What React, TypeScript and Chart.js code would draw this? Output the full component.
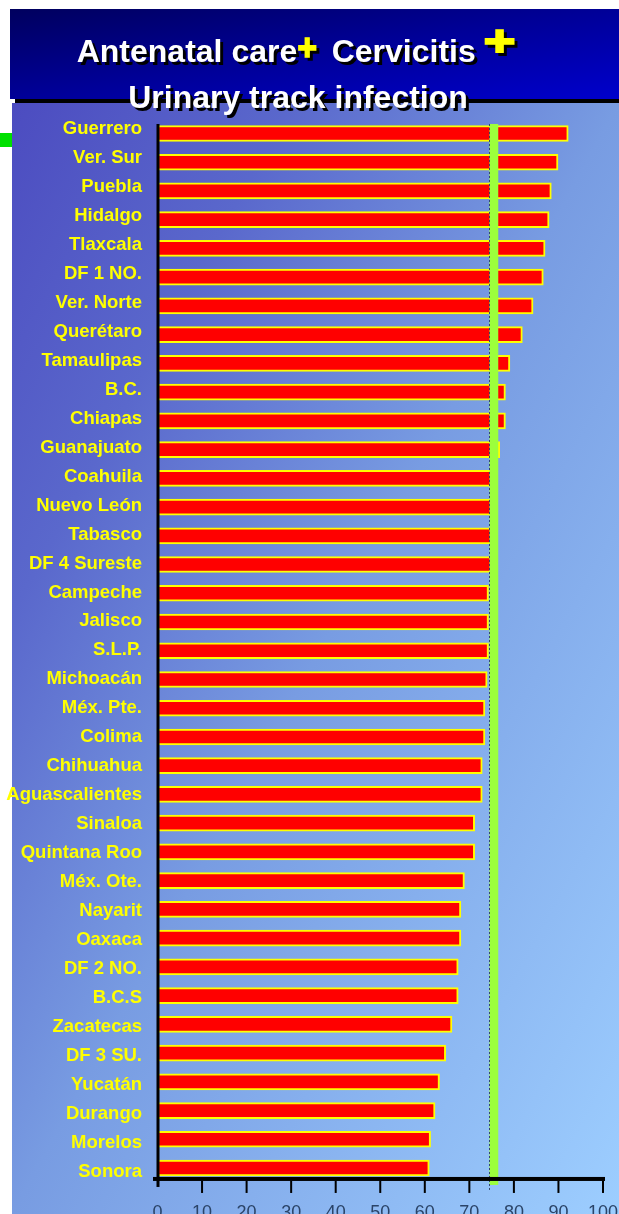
import React, { useEffect, useRef } from 'react';
import { Chart, registerables } from 'chart.js';

Chart.register(...registerables);

// Coverage by delegation (%), listed from highest to lowest
const states = [
  'Guerrero', 'Ver. Sur', 'Puebla', 'Hidalgo', 'Tlaxcala', 'DF 1 NO.', 'Ver. Norte',
  'Querétaro', 'Tamaulipas', 'B.C.', 'Chiapas', 'Guanajuato', 'Coahuila', 'Nuevo León',
  'Tabasco', 'DF 4 Sureste', 'Campeche', 'Jalisco', 'S.L.P.', 'Michoacán', 'Méx. Pte.',
  'Colima', 'Chihuahua', 'Aguascalientes', 'Sinaloa', 'Quintana Roo', 'Méx. Ote.',
  'Nayarit', 'Oaxaca', 'DF 2 NO.', 'B.C.S', 'Zacatecas', 'DF 3 SU.', 'Yucatán',
  'Durango', 'Morelos', 'Sonora',
];

const coverage = [
  92.2, 89.9, 88.4, 87.9, 87.0, 86.6, 84.3,
  81.9, 79.1, 78.1, 78.1, 76.8, 75.6, 75.4,
  75.2, 75.0, 74.3, 74.3, 74.3, 74.0, 73.5,
  73.5, 72.9, 72.9, 71.2, 71.2, 68.9,
  68.1, 68.1, 67.5, 67.5, 66.1, 64.7, 63.3,
  62.3, 61.3, 61.0,
];

// National reference level drawn as a vertical band
const nationalLevel = [75.5];

const xTickValues = [0, 10, 20, 30, 40, 50, 60, 70, 80, 90, 100];

const titleFirst = 'Antenatal care';
const titleSecond = 'Cervicitis';
const titleThird = 'Urinary track infection';
const plusSign = '+';

const FONT = '"Liberation Sans", Arial, Helvetica, sans-serif';

function cssDiagonalGradient(
  ctx: CanvasRenderingContext2D,
  x: number, y: number, w: number, h: number,
  stops: [number, string][],
) {
  // Equivalent of CSS "to bottom right": opposite corners share the mid colour
  const norm = Math.hypot(w, h);
  const ux = h / norm;
  const uy = w / norm;
  const half = (w * h) / norm;
  const cx = x + w / 2;
  const cy = y + h / 2;
  const g = ctx.createLinearGradient(cx - ux * half, cy - uy * half, cx + ux * half, cy + uy * half);
  stops.forEach(([t, c]) => g.addColorStop(t, c));
  return g;
}

function shadowText(ctx: CanvasRenderingContext2D, text: string, x: number, y: number, color: string) {
  ctx.fillStyle = '#000000';
  ctx.fillText(text, x + 3, y + 3);
  ctx.fillStyle = color;
  ctx.fillText(text, x, y);
}

// Draws a glyph so that its ink box fits the given centre and size
function fittedGlyph(
  ctx: CanvasRenderingContext2D, ch: string, baseSize: number,
  cx: number, cy: number, inkW: number, inkH: number, color: string, weight: number,
) {
  ctx.save();
  ctx.font = `bold ${baseSize}px ${FONT}`;
  ctx.textAlign = 'left';
  ctx.textBaseline = 'alphabetic';
  const m = ctx.measureText(ch);
  const w = m.actualBoundingBoxRight + m.actualBoundingBoxLeft;
  const h = m.actualBoundingBoxAscent + m.actualBoundingBoxDescent;
  const sx = (inkW - weight) / w;
  const sy = (inkH - weight) / h;
  const ox = -(m.actualBoundingBoxRight - m.actualBoundingBoxLeft) / 2;
  const oy = (m.actualBoundingBoxAscent - m.actualBoundingBoxDescent) / 2;
  ctx.translate(cx, cy);
  ctx.scale(sx, sy);
  ctx.lineJoin = 'miter';
  ctx.lineWidth = weight / Math.min(sx, sy);
  ctx.fillStyle = '#000000';
  ctx.strokeStyle = '#000000';
  ctx.fillText(ch, ox + 3 / sx, oy + 3 / sy);
  ctx.strokeText(ch, ox + 3 / sx, oy + 3 / sy);
  ctx.fillStyle = color;
  ctx.strokeStyle = color;
  ctx.fillText(ch, ox, oy);
  ctx.strokeText(ch, ox, oy);
  ctx.restore();
}

const slidePlugin = {
  id: 'slideDecor',
  beforeDraw(chart: any) {
    const { ctx, width, height } = chart;
    ctx.save();
    ctx.fillStyle = '#ffffff';
    ctx.fillRect(0, 0, width, height);

    // title banner
    ctx.fillStyle = cssDiagonalGradient(ctx, 10, 9, width - 10, 90, [
      [0, '#00005e'],
      [0.5, '#000098'],
      [1, '#0000cc'],
    ]);
    ctx.fillRect(10, 9, width - 10, 90);
    ctx.fillStyle = '#000000';
    ctx.fillRect(15, 99, width - 15, 4);

    // plot panel
    ctx.fillStyle = cssDiagonalGradient(ctx, 12, 103, width - 12, height - 103, [
      [0, '#4c4cc0'],
      [0.23, '#5a68cc'],
      [0.5, '#789ce2'],
      [1, '#9dceff'],
    ]);
    ctx.fillRect(12, 103, width - 12, height - 103);

    ctx.fillStyle = '#00e000';
    ctx.fillRect(0, 133, 12, 14);
    ctx.restore();
  },
  afterDatasetsDraw(chart: any) {
    const { ctx } = chart;
    const xs = chart.scales.x;
    const ys = chart.scales.y;
    const step = ys.getPixelForValue(1) - ys.getPixelForValue(0);
    const firstY = ys.getPixelForValue(0);
    const lastY = ys.getPixelForValue(states.length - 1);
    const axisY = lastY + step * 0.38;
    const x0 = xs.getPixelForValue(0);
    const topY = firstY - step * 0.33;

    ctx.save();

    // reference band
    nationalLevel.forEach((v) => {
      const px = xs.getPixelForValue(v);
      ctx.fillStyle = '#9cff3c';
      ctx.fillRect(px - 4.4, topY, 8.8, axisY + 6 - topY);
      ctx.strokeStyle = '#34466e';
      ctx.lineWidth = 1;
      ctx.setLineDash([2, 2]);
      ctx.beginPath();
      ctx.moveTo(Math.round(px - 4.4) + 0.5, topY);
      ctx.lineTo(Math.round(px - 4.4) + 0.5, axisY + 11);
      ctx.stroke();
      ctx.setLineDash([]);
    });

    // axes
    ctx.fillStyle = '#000000';
    const x100 = xs.getPixelForValue(100);
    ctx.fillRect(x0 - 4.5, axisY - 2, x100 + 2 - (x0 - 4.5), 4);
    ctx.fillRect(x0 - 1, topY, 3, axisY + 8 - topY);
    xTickValues.forEach((v) => {
      if (v === 0) return;
      const px = xs.getPixelForValue(v);
      ctx.fillRect(px - 1, axisY + 2, 2, 12);
    });

    // x tick labels
    ctx.font = `18px ${FONT}`;
    ctx.fillStyle = '#2b4468';
    ctx.textAlign = 'center';
    ctx.textBaseline = 'alphabetic';
    xTickValues.forEach((v) => {
      ctx.fillText(String(v), xs.getPixelForValue(v), axisY + 39);
    });

    // category labels
    ctx.font = `bold 18.5px ${FONT}`;
    ctx.fillStyle = '#ffff00';
    ctx.textAlign = 'right';
    const n = states.length - 1;
    states.forEach((s, i) => {
      const y = ys.getPixelForValue(i) + 0.8 + (7.8 * i) / n;
      ctx.fillText(s, 142, y);
    });

    // title
    ctx.font = `bold 32px ${FONT}`;
    ctx.textAlign = 'left';
    shadowText(ctx, titleFirst, 76.7, 61.5, '#ffffff');
    shadowText(ctx, titleSecond, 331.7, 61.5, '#ffffff');
    ctx.textAlign = 'center';
    shadowText(ctx, titleThird, 298, 107.5, '#ffffff');
    fittedGlyph(ctx, plusSign, 40, 307.2, 47.6, 19, 21, '#ffff00', 1.5);
    fittedGlyph(ctx, plusSign, 60, 499.5, 40.8, 30, 24, '#ffff00', 2);

    ctx.restore();
  },
};

export default function App() {
  const canvasRef = useRef<HTMLCanvasElement | null>(null);

  useEffect(() => {
    if (!canvasRef.current) return;
    const chart = new Chart(canvasRef.current, {
      type: 'bar',
      data: {
        labels: states,
        datasets: [
          {
            data: coverage,
            backgroundColor: '#ff0000',
            borderColor: '#ffff00',
            borderWidth: 2,
            borderSkipped: false,
            barThickness: 16,
          },
        ],
      },
      options: {
        indexAxis: 'y',
        responsive: false,
        animation: false,
        layout: { padding: { left: 157.5, right: 16, top: 119.1, bottom: 31.6 } },
        scales: {
          x: { type: 'linear', min: 0, max: 100, display: false },
          y: { display: false },
        },
        plugins: {
          legend: { display: false },
          tooltip: { enabled: false },
        },
      },
      plugins: [slidePlugin],
    });
    return () => chart.destroy();
  }, []);

  return (
    <div style={{ position: 'absolute', left: 0, top: 0, width: 619, height: 1214, overflow: 'hidden' }}>
      <canvas ref={canvasRef} width={619} height={1214} style={{ display: 'block' }} />
    </div>
  );
}
